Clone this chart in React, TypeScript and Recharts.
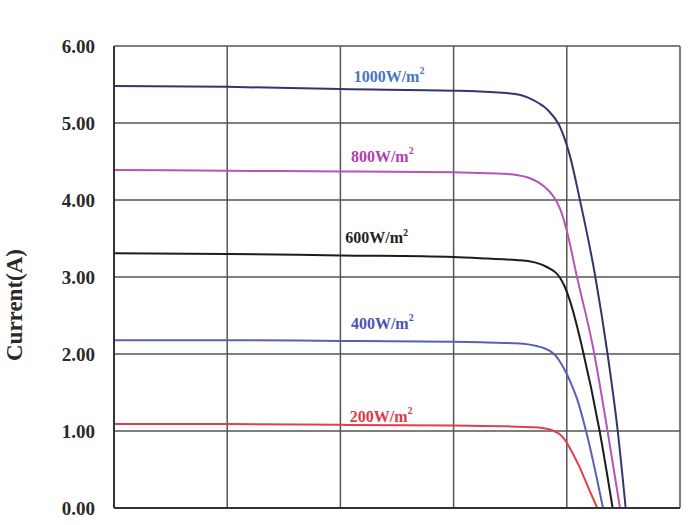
import { LineChart, Line, XAxis, YAxis, CartesianGrid, ReferenceDot, Label } from 'recharts';

// voltage (V) / current (A) pairs
type IV = { v: number; i: number };
const pts = (rows: [number, number][]): IV[] => rows.map(([v, i]) => ({ v, i }));

const IRR_1000 = pts([
  [0, 5.48], [10, 5.47], [20, 5.44], [30, 5.42], [32.3, 5.41], [34, 5.395],
  [35.2, 5.38], [36.2, 5.35], [37, 5.3], [37.6, 5.25], [38, 5.21], [38.5, 5.14],
  [39, 5.05], [39.4, 4.95], [39.8, 4.8], [40.3, 4.56], [41.1, 4.04], [42.5, 3.02],
  [43.6, 2.0], [44.5, 1.0], [45.2, 0],
]);
const IRR_800 = pts([
  [0, 4.39], [10, 4.38], [20, 4.37], [30, 4.36], [32.3, 4.35], [34.5, 4.34],
  [35.7, 4.32], [36.5, 4.295], [37.1, 4.26], [37.6, 4.22], [38.2, 4.15],
  [38.7, 4.07], [39.1, 3.98], [39.5, 3.85], [40.0, 3.6], [40.9, 3.0],
  [42.3, 2.1], [43.6, 1.0], [44.7, 0],
]);
const IRR_600 = pts([
  [0, 3.31], [10, 3.3], [20, 3.28], [30, 3.26], [33, 3.24], [35.5, 3.22],
  [36.8, 3.2], [37.6, 3.17], [38.1, 3.14], [38.5, 3.11], [39.0, 3.06],
  [39.4, 2.99], [39.8, 2.88], [40.3, 2.68], [40.8, 2.42], [41.3, 2.12],
  [42.9, 1.0], [44.05, 0],
]);
const IRR_400 = pts([
  [0, 2.18], [10, 2.18], [20, 2.17], [30, 2.16], [33, 2.15], [35.5, 2.14],
  [36.6, 2.125], [37.4, 2.1], [38.0, 2.075], [38.5, 2.04], [39.0, 1.98],
  [39.4, 1.9], [39.9, 1.77], [40.4, 1.61], [40.9, 1.42], [41.7, 1.0], [43.2, 0],
]);
const IRR_200 = pts([
  [0, 1.09], [10, 1.09], [20, 1.08], [30, 1.07], [35, 1.06], [36.8, 1.05],
  [37.8, 1.04], [38.5, 1.02], [39.0, 0.99], [39.4, 0.955], [39.8, 0.89],
  [40.3, 0.77], [41.1, 0.54], [42.0, 0.23], [42.7, 0],
]);

const X_TICKS = [0, 10, 20, 30, 40, 50];
const Y_TICKS = [0, 1, 2, 3, 4, 5, 6];

const SERIES = [
  { name: '1000W/m', data: IRR_1000, color: '#34346e', tag: '#4a76c2', at: [24.3, 5.61] },
  { name: '800W/m', data: IRR_800, color: '#b655b8', tag: '#b03fb0', at: [23.7, 4.57] },
  { name: '600W/m', data: IRR_600, color: '#1c1c1c', tag: '#222222', at: [23.2, 3.51] },
  { name: '400W/m', data: IRR_400, color: '#5860b6', tag: '#4a55b2', at: [23.7, 2.4] },
  { name: '200W/m', data: IRR_200, color: '#e0404e', tag: '#e03848', at: [23.6, 1.19] },
];

const SERIF = '"Liberation Serif", "DejaVu Serif", serif';

function Tag({ cx, cy, text, fill }: { cx?: number; cy?: number; text: string; fill: string }) {
  if (cx == null || cy == null) return null;
  return (
    <text
      x={cx}
      y={cy}
      textAnchor="middle"
      dominantBaseline="central"
      fontFamily={SERIF}
      fontWeight="bold"
      fontSize={16}
      fill={fill}
    >
      {text}
      <tspan fontSize={10} dy={-6}>2</tspan>
    </text>
  );
}

export default function App() {
  return (
    <div style={{ position: 'absolute', left: 0, top: 0, background: '#fff' }}>
      <LineChart width={700} height={525} margin={{ top: 46, right: 20, bottom: 0, left: 0 }}>
        <CartesianGrid
          stroke="#555"
          strokeWidth={1.5}
          verticalCoordinatesGenerator={({ xAxis, offset }: any) =>
            X_TICKS.map((t) =>
              xAxis && typeof xAxis.scale === 'function'
                ? xAxis.scale(t)
                : offset.left + (t / 50) * offset.width,
            )
          }
        />
        <XAxis
          type="number"
          dataKey="v"
          domain={[0, 50]}
          ticks={X_TICKS}
          tick={false}
          tickLine={false}
          height={17}
          axisLine={{ stroke: '#333', strokeWidth: 2 }}
        />
        <YAxis
          type="number"
          dataKey="i"
          domain={[0, 6]}
          ticks={Y_TICKS}
          width={114}
          tickLine={false}
          tickSize={0}
          tickMargin={19}
          tickFormatter={(v: number) => v.toFixed(2)}
          tick={{ fontFamily: SERIF, fontWeight: 'bold', fontSize: 19, fill: '#2a2a2a' }}
          axisLine={{ stroke: '#333', strokeWidth: 2 }}
        >
          <Label
            content={({ viewBox }: any) => {
              const x = viewBox.x + 14;
              const y = viewBox.y + viewBox.height / 2 + 28;
              return (
                <text
                  x={x}
                  y={y}
                  transform={`rotate(-90, ${x}, ${y})`}
                  textAnchor="middle"
                  dominantBaseline="central"
                  fontFamily={SERIF}
                  fontWeight="bold"
                  fontSize={23}
                  fill="#2a2a2a"
                >
                  Current(A)
                </text>
              );
            }}
          />
        </YAxis>
        {SERIES.map((s) => (
          <Line
            key={s.name}
            data={s.data}
            dataKey="i"
            type="monotone"
            stroke={s.color}
            strokeWidth={2}
            dot={false}
            isAnimationActive={false}
          />
        ))}
        {SERIES.map((s) => (
          <ReferenceDot
            key={`tag-${s.name}`}
            x={s.at[0]}
            y={s.at[1]}
            r={1}
            shape={(p: any) => <Tag cx={p.cx} cy={p.cy} text={s.name} fill={s.tag} />}
          />
        ))}
      </LineChart>
    </div>
  );
}
